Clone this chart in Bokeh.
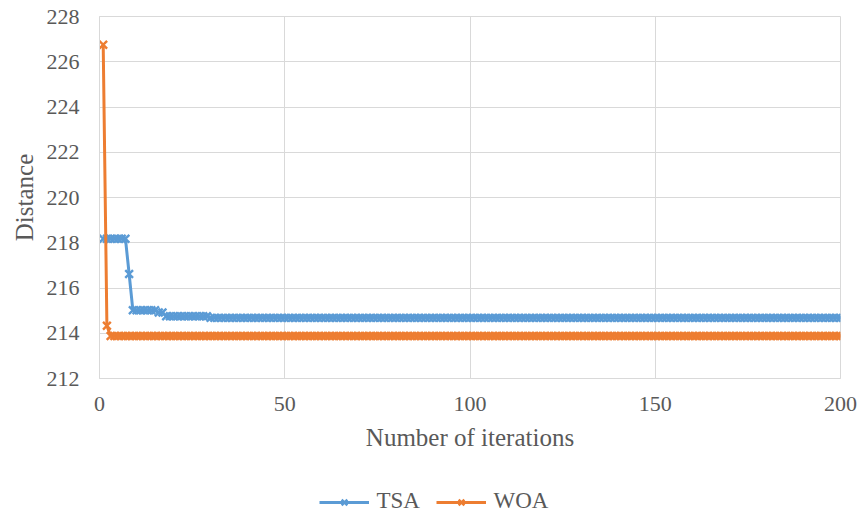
from bokeh.plotting import figure
from bokeh.layouts import column
from bokeh.models import Range1d, FixedTicker, Legend, LegendItem, ColumnDataSource, Label
from bokeh.embed import file_html
from bokeh.resources import INLINE

# Data (iterations 1..200)
iterations = list(range(1, 201))
tsa = [218.18] * 7 + [216.62] + [215.02] * 7 + [214.92] * 2 + [214.75] * 12 + [214.68] * 171
woa = [226.75] + [214.33] + [213.88] * 198
series_names = ["TSA", "WOA"]

x_ticks = [0, 50, 100, 150, 200]
y_ticks = [212, 214, 216, 218, 220, 222, 224, 226, 228]

BLUE = "#5B9BD5"
ORANGE = "#ED7D31"
TEXT = "#595959"
GRID = "#D9D9D9"
FONT = "Liberation Serif"

p = figure(width=862, height=470, output_backend="svg", toolbar_location=None,
           x_range=Range1d(0, 200), y_range=Range1d(212, 228),
           min_border_left=99, min_border_right=22, min_border_top=16,
           min_border_bottom=92)
p.outline_line_color = GRID
p.background_fill_color = "white"
p.border_fill_color = "white"

for ax in (p.xaxis[0], p.yaxis[0]):
    ax.major_tick_line_color = None
    ax.minor_tick_line_color = None
    ax.axis_line_color = GRID
    ax.major_label_text_font = FONT
    ax.major_label_text_font_size = "22px"
    ax.major_label_text_color = TEXT
    ax.axis_label_text_font = FONT
    ax.axis_label_text_font_size = "25px"
    ax.axis_label_text_color = TEXT
    ax.axis_label_text_font_style = "normal"

p.xaxis.ticker = FixedTicker(ticks=x_ticks)
p.yaxis.ticker = FixedTicker(ticks=y_ticks)
p.xaxis.axis_label = "Number of iterations"
p.yaxis.axis_label = "Distance"
p.xaxis.major_label_standoff = 12
p.yaxis.major_label_standoff = 14
p.xaxis.axis_label_standoff = 10
p.yaxis.axis_label_standoff = 6

p.xgrid.ticker = FixedTicker(ticks=x_ticks)
p.ygrid.ticker = FixedTicker(ticks=y_ticks)
p.xgrid.grid_line_color = GRID
p.ygrid.grid_line_color = GRID

src = ColumnDataSource(dict(x=iterations, tsa=tsa, woa=woa))

def draw(fig, col, color, size):
    ln = fig.line("x", col, source=src, line_color=color, line_width=3)
    mk = fig.scatter("x", col, source=src, marker="x", size=size, line_color=color, line_width=2.4)
    return ln, mk

draw(p, "tsa", BLUE, 11)
draw(p, "woa", ORANGE, 11)

# Legend strip below the chart (its glyphs lie outside its visible range)
lf = figure(width=862, height=46, output_backend="svg", toolbar_location=None,
            x_range=Range1d(1000, 1001), y_range=Range1d(1000, 1001),
            x_axis_location=None, y_axis_location=None,
            min_border_left=0, min_border_right=0, min_border_top=0, min_border_bottom=0)
lf.outline_line_color = None
lf.xgrid.visible = False
lf.ygrid.visible = False
r_tsa = draw(lf, "tsa", BLUE, 8)
r_woa = draw(lf, "woa", ORANGE, 8)

# legend keys come from Bokeh's Legend; its texts are drawn as serif Labels
legend = Legend(items=[LegendItem(label=" ", renderers=list(r_tsa)),
                       LegendItem(label=" ", renderers=list(r_woa))],
                orientation="horizontal", location=(220, 4),
                label_text_font_size="10px", label_width=42, label_height=20,
                glyph_width=50, glyph_height=20, label_standoff=5, spacing=20,
                padding=2, margin=0, border_line_color=None, background_fill_alpha=0)
lf.add_layout(legend, "center")

for name, lx in zip(series_names, [277, 394]):
    lf.add_layout(Label(x=lx, y=16, x_units="screen", y_units="screen", text=name,
                        text_font=FONT, text_font_size="23px", text_color=TEXT,
                        text_baseline="middle", text_align="left"))

open("out.html", "w").write(file_html(column(p, lf, spacing=0), INLINE))
